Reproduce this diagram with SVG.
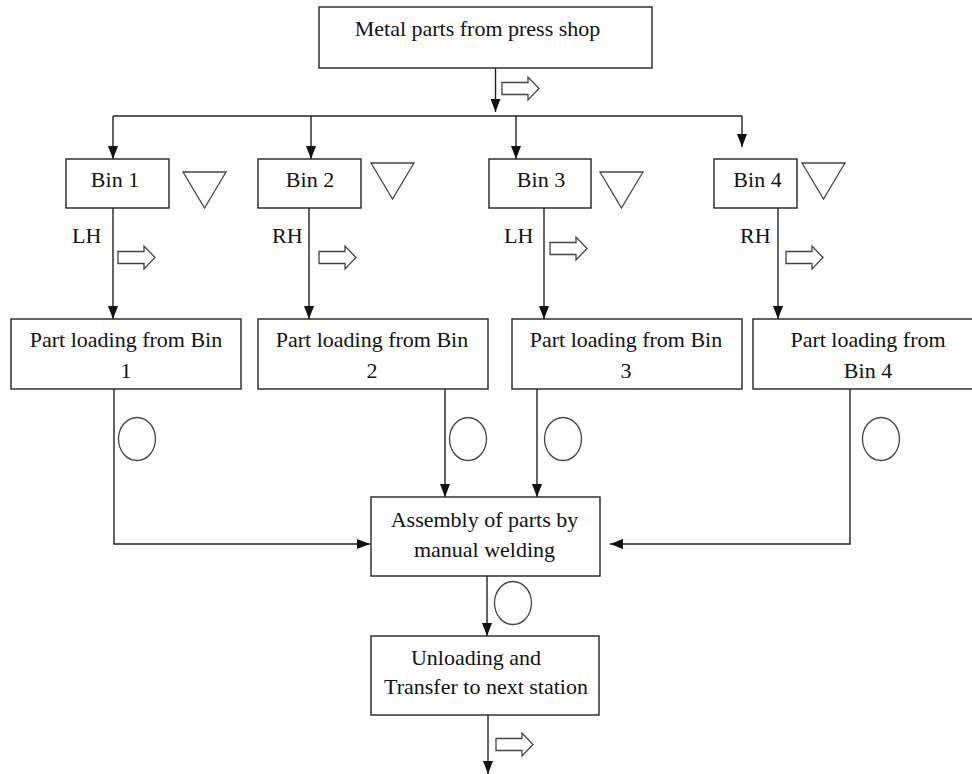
<svg xmlns="http://www.w3.org/2000/svg" width="972" height="774" viewBox="0 0 972 774">
<style>
.box{fill:#fff;stroke:#222;stroke-width:1.4}
.t{font-family:'Liberation Serif','Times New Roman',serif;font-size:22px;fill:#111}
.c{stroke:#222;stroke-width:1.4;fill:none}
.sym{fill:#fff;stroke:#444;stroke-width:1.3}
</style>
<defs>
<marker id="ah" viewBox="0 0 13 10" refX="13" refY="5" markerWidth="13" markerHeight="10" markerUnits="userSpaceOnUse" orient="auto">
<path d="M0,0 L13,5 L0,10 z" fill="#111"/>
</marker>
<path id="blk" d="M0,-6 H26 V-11.5 L37,0 L26,11.5 V6 H0 Z"/>
<path id="tri" d="M0,0 H43 L21.5,36 Z"/>
</defs>
<rect width="972" height="774" fill="#fff"/>

<g id="connectors">
<path class="c" d="M495.5,68 V112" marker-end="url(#ah)"/>
<path class="c" d="M113,116 H742"/>
<path class="c" d="M113,116 V159" marker-end="url(#ah)"/>
<path class="c" d="M311,116 V159" marker-end="url(#ah)"/>
<path class="c" d="M516,116 V159" marker-end="url(#ah)"/>
<path class="c" d="M742,116 V147" marker-end="url(#ah)"/>
<path class="c" d="M113,208 V319" marker-end="url(#ah)"/>
<path class="c" d="M309,208 V319" marker-end="url(#ah)"/>
<path class="c" d="M544,208 V319" marker-end="url(#ah)"/>
<path class="c" d="M778,208 V319" marker-end="url(#ah)"/>
<path class="c" d="M114,389 V544 H370" marker-end="url(#ah)"/>
<path class="c" d="M445,389 V497" marker-end="url(#ah)"/>
<path class="c" d="M537,389 V497" marker-end="url(#ah)"/>
<path class="c" d="M850,389 V544 H610" marker-end="url(#ah)"/>
<path class="c" d="M487,576 V636" marker-end="url(#ah)"/>
<path class="c" d="M488,715 V774" marker-end="url(#ah)"/>
</g>

<g id="symbols" font-family="'Liberation Serif', serif">
<use href="#blk" class="sym" x="502" y="88.5"/>
<use href="#blk" class="sym" x="118" y="257.5"/>
<use href="#blk" class="sym" x="319" y="257.5"/>
<use href="#blk" class="sym" x="550" y="248.5"/>
<use href="#blk" class="sym" x="786" y="257.5"/>
<use href="#blk" class="sym" x="496" y="744.5"/>
<use href="#tri" class="sym" x="183" y="172"/>
<use href="#tri" class="sym" x="371" y="163"/>
<use href="#tri" class="sym" x="600" y="172"/>
<use href="#tri" class="sym" x="802" y="163"/>
<ellipse class="sym" cx="137" cy="439" rx="18.5" ry="21.5"/>
<ellipse class="sym" cx="468" cy="439" rx="18.5" ry="21.5"/>
<ellipse class="sym" cx="563" cy="439" rx="18.5" ry="21.5"/>
<ellipse class="sym" cx="881" cy="439" rx="18.5" ry="21.5"/>
<ellipse class="sym" cx="513" cy="603" rx="18.5" ry="21.5"/>
<text class="t" x="72" y="243">LH</text>
<text class="t" x="272" y="243">RH</text>
<text class="t" x="504" y="243">LH</text>
<text class="t" x="740" y="243">RH</text>
</g>

<g id="n-top" font-family="'Liberation Serif', serif">
<rect class="box" x="319" y="7" width="333" height="61"/>
<text class="t" x="477.5" y="36" text-anchor="middle">Metal parts from press shop</text>
</g>
<g id="n-bin1" font-family="'Liberation Serif', serif">
<rect class="box" x="66" y="159" width="103" height="49"/>
<text class="t" x="115" y="187" text-anchor="middle">Bin 1</text>
</g>
<g id="n-bin2" font-family="'Liberation Serif', serif">
<rect class="box" x="258" y="159" width="103" height="49"/>
<text class="t" x="310" y="187" text-anchor="middle">Bin 2</text>
</g>
<g id="n-bin3" font-family="'Liberation Serif', serif">
<rect class="box" x="489" y="159" width="102" height="49"/>
<text class="t" x="541" y="187" text-anchor="middle">Bin 3</text>
</g>
<g id="n-bin4" font-family="'Liberation Serif', serif">
<rect class="box" x="714" y="159" width="83" height="49"/>
<text class="t" x="757.5" y="187" text-anchor="middle">Bin 4</text>
</g>
<g id="n-load1" font-family="'Liberation Serif', serif">
<rect class="box" x="11" y="319" width="230" height="70"/>
<text class="t" x="126" y="347" text-anchor="middle">Part loading from Bin</text>
<text class="t" x="126" y="378" text-anchor="middle">1</text>
</g>
<g id="n-load2" font-family="'Liberation Serif', serif">
<rect class="box" x="258" y="319" width="230" height="70"/>
<text class="t" x="372" y="347" text-anchor="middle">Part loading from Bin</text>
<text class="t" x="372" y="378" text-anchor="middle">2</text>
</g>
<g id="n-load3" font-family="'Liberation Serif', serif">
<rect class="box" x="512" y="319" width="230" height="70"/>
<text class="t" x="626" y="347" text-anchor="middle">Part loading from Bin</text>
<text class="t" x="626" y="378" text-anchor="middle">3</text>
</g>
<g id="n-load4" font-family="'Liberation Serif', serif">
<rect class="box" x="753" y="319" width="235" height="70"/>
<text class="t" x="868" y="347" text-anchor="middle">Part loading from</text>
<text class="t" x="868" y="378" text-anchor="middle">Bin 4</text>
</g>
<g id="n-assembly" font-family="'Liberation Serif', serif">
<rect class="box" x="371" y="497" width="229" height="79"/>
<text class="t" x="484.5" y="527" text-anchor="middle">Assembly of parts by</text>
<text class="t" x="484.5" y="557" text-anchor="middle">manual welding</text>
</g>
<g id="n-unload" font-family="'Liberation Serif', serif">
<rect class="box" x="371" y="636" width="228" height="79"/>
<text class="t" x="476" y="665" text-anchor="middle">Unloading and</text>
<text class="t" x="486" y="694" text-anchor="middle">Transfer to next station</text>
</g>
</svg>
